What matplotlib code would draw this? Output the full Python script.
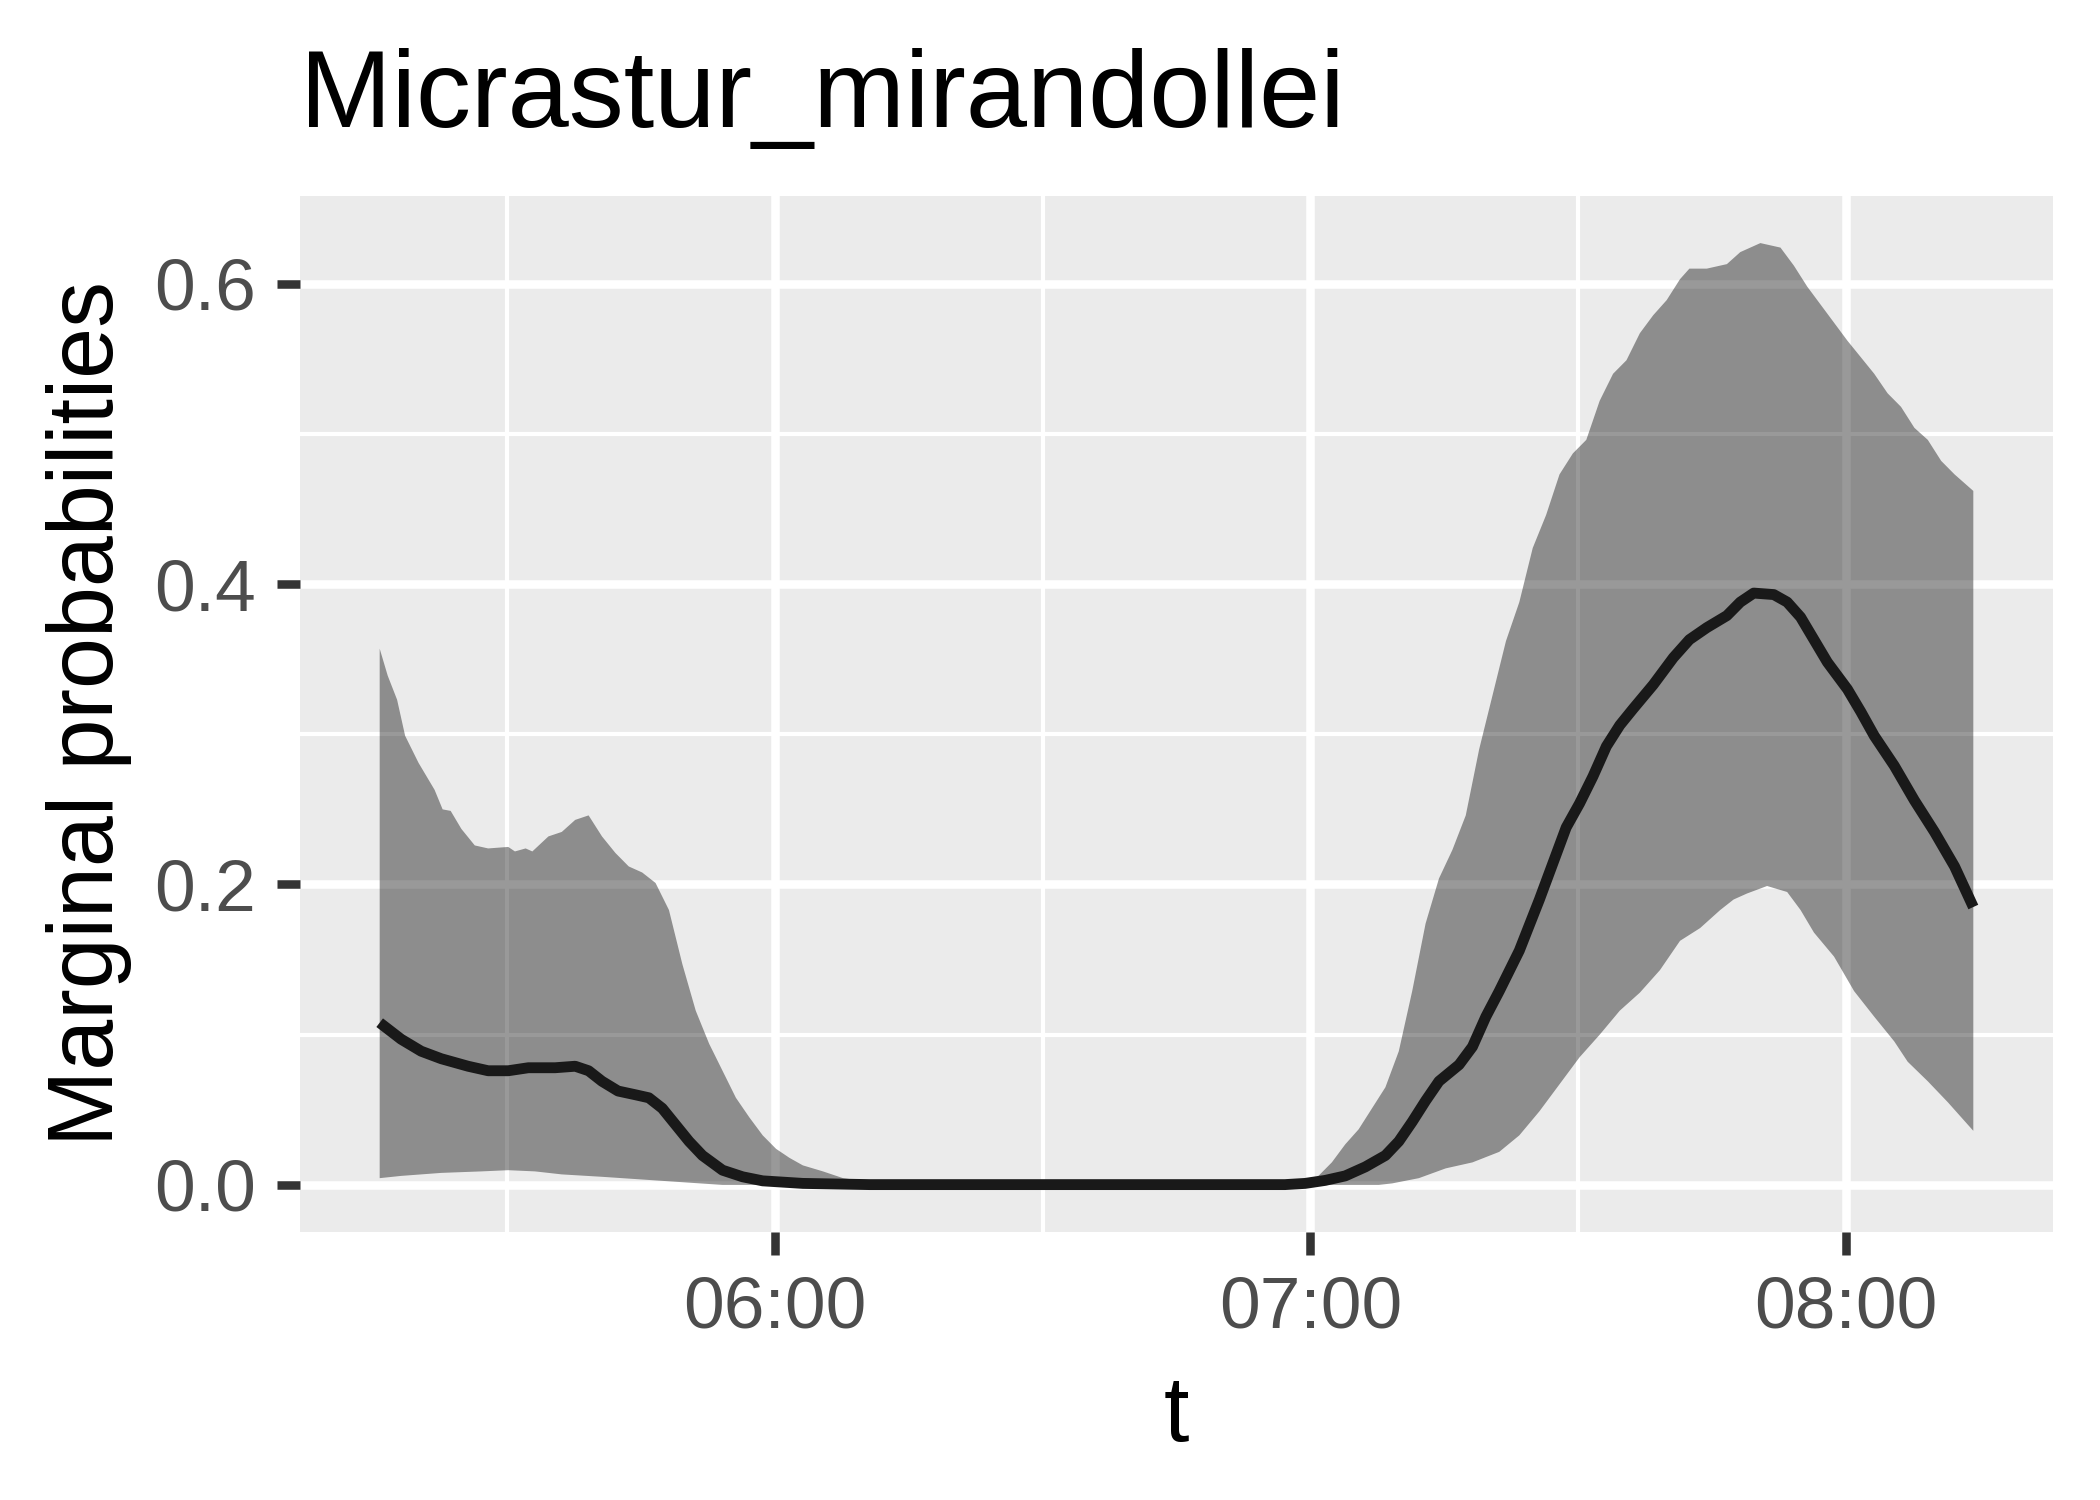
import numpy as np
import matplotlib.pyplot as plt
from matplotlib.ticker import FixedLocator, FuncFormatter

plt.rcParams["font.family"] = ["Liberation Sans", "DejaVu Sans"]

# time in minutes after midnight
upper_t = [315.75, 316.65, 317.7, 318.6, 320.1, 321.9, 322.8, 323.7, 324.9, 326.4,
           327.9, 330.15, 330.9, 332.1, 332.85, 334.65, 336.15, 337.65, 339.15, 340.65,
           342.15, 343.65, 345.15, 346.65, 348.15, 349.65, 351.15, 352.65, 354.15, 355.65,
           357.15, 358.65, 360.15, 361.65, 363.15, 365.4, 367.65, 370.65, 375.15, 419.4,
           420.9, 422.4, 423.9, 425.4, 426.9, 428.4, 429.9, 431.4, 432.9, 434.4,
           435.9, 437.4, 438.9, 440.4, 441.9, 443.4, 444.9, 446.4, 447.9, 449.4,
           450.9, 452.4, 453.9, 455.4, 456.9, 458.4, 459.9, 461.4, 462.45, 464.4,
           466.65, 468.15, 470.4, 472.65, 474.15, 475.65, 477.9, 480.15, 481.65, 483.15,
           484.65, 486.15, 487.65, 489.15, 490.65, 492.15, 494.25]
upper_p = [0.357, 0.339, 0.323, 0.299, 0.281, 0.263, 0.250, 0.249, 0.237, 0.226,
           0.224, 0.225, 0.222, 0.224, 0.222, 0.232, 0.235, 0.243, 0.246, 0.232,
           0.221, 0.212, 0.208, 0.201, 0.183, 0.147, 0.116, 0.094, 0.076, 0.058,
           0.045, 0.033, 0.024, 0.018, 0.013, 0.009, 0.0045, 0.002, 0.0, 0.0,
           0.006, 0.015, 0.027, 0.037, 0.051, 0.065, 0.089, 0.129, 0.174, 0.204,
           0.223, 0.246, 0.290, 0.326, 0.362, 0.388, 0.424, 0.446, 0.473, 0.487,
           0.496, 0.522, 0.540, 0.549, 0.567, 0.579, 0.589, 0.603, 0.610, 0.610,
           0.613, 0.621, 0.627, 0.624, 0.612, 0.598, 0.580, 0.562, 0.551, 0.540,
           0.527, 0.518, 0.504, 0.496, 0.482, 0.473, 0.462]

lower_t = [315.75, 318.15, 322.65, 327.15, 330.15, 333.15, 336.15, 340.65, 345.15, 349.65,
           354.15, 427.65, 429.15, 432.15, 435.15, 438.15, 441.15, 443.4, 445.65, 447.9,
           450.15, 452.4, 454.65, 456.9, 459.15, 461.4, 463.65, 465.9, 467.4, 468.9,
           471.15, 473.4, 474.9, 476.4, 478.65, 480.9, 483.15, 485.4, 486.9, 489.15,
           491.4, 494.25]
lower_p = [0.0045, 0.006, 0.008, 0.009, 0.0098, 0.009, 0.007, 0.0054, 0.0036, 0.0018,
           0.0, 0.0, 0.001, 0.0045, 0.011, 0.015, 0.022, 0.033, 0.049, 0.067,
           0.085, 0.100, 0.116, 0.128, 0.143, 0.1625, 0.171, 0.183, 0.190, 0.194,
           0.199, 0.195, 0.183, 0.168, 0.152, 0.129, 0.112, 0.0955, 0.082, 0.069,
           0.055, 0.036]

mean_t = [315.75, 318.15, 320.4, 322.65, 325.65, 327.9, 330.15, 332.4, 335.4, 337.65,
          339.15, 340.65, 342.45, 344.4, 345.9, 347.4, 348.9, 350.4, 351.9, 354.15,
          356.4, 358.65, 363.15, 370.65, 417.15, 419.4, 421.65, 423.9, 426.15, 428.4,
          429.9, 431.4, 432.9, 434.4, 436.65, 438.15, 439.65, 441.15, 443.4, 445.65,
          447.15, 448.65, 450.15, 451.65, 453.15, 454.65, 456.15, 458.4, 460.65, 462.45,
          464.4, 466.65, 468.15, 469.65, 471.9, 473.4, 474.9, 476.4, 477.9, 480.15,
          481.65, 483.15, 485.4, 487.65, 489.9, 492.15, 494.25]
mean_p = [0.108, 0.097, 0.089, 0.084, 0.079, 0.076, 0.076, 0.078, 0.078, 0.079,
          0.076, 0.069, 0.0625, 0.060, 0.058, 0.051, 0.040, 0.029, 0.0196, 0.0098,
          0.0054, 0.0027, 0.001, 0.0002, 0.0002, 0.001, 0.003, 0.006, 0.012, 0.0196,
          0.029, 0.042, 0.056, 0.069, 0.080, 0.092, 0.112, 0.129, 0.156, 0.190,
          0.214, 0.238, 0.254, 0.272, 0.292, 0.306, 0.317, 0.333, 0.351, 0.363,
          0.371, 0.379, 0.388, 0.394, 0.393, 0.388, 0.378, 0.363, 0.348, 0.330,
          0.315, 0.299, 0.279, 0.256, 0.235, 0.212, 0.185]

x_breaks = [360, 420, 480]
x_minor = [330, 390, 450]
y_breaks = [0.0, 0.2, 0.4, 0.6]
y_minor = [0.1, 0.3, 0.5]

title = "Micrastur_mirandollei"


def hhmm(v, pos=None):
    return f"{int(v // 60):02d}:{int(round(v % 60)):02d}"


fig = plt.figure(figsize=(7, 5), dpi=300)

W, H = 2100, 1500
left, right, top, bottom = 300, 2053, 196, 1232
ax = fig.add_axes([left / W, 1 - bottom / H, (right - left) / W, (bottom - top) / H])

ax.set_facecolor("#EBEBEB")
for s in ax.spines.values():
    s.set_visible(False)

# ribbon
poly_t = np.concatenate([upper_t, lower_t[::-1]])
poly_p = np.concatenate([upper_p, lower_p[::-1]])
ax.fill(poly_t, poly_p, color="black", alpha=0.4, lw=0, zorder=3)

# mean line
ax.plot(mean_t, mean_p, color="#191919", lw=2.6, zorder=4,
        solid_capstyle="butt", solid_joinstyle="round")

ax.margins(x=0.05, y=0.05)

ax.xaxis.set_major_locator(FixedLocator(x_breaks))
ax.xaxis.set_minor_locator(FixedLocator(x_minor))
ax.xaxis.set_major_formatter(FuncFormatter(hhmm))
ax.yaxis.set_major_locator(FixedLocator(y_breaks))
ax.yaxis.set_minor_locator(FixedLocator(y_minor))
ax.yaxis.set_major_formatter(FuncFormatter(lambda v, p: f"{v:.1f}"))

ax.grid(which="major", color="white", lw=2.05)
ax.grid(which="minor", color="white", lw=1.0)
ax.set_axisbelow(True)

ax.tick_params(which="major", length=5.5, width=2.05, color="#333333",
               labelsize=17.6, labelcolor="#4D4D4D", pad=5)
ax.tick_params(which="minor", length=0, width=0)

fig.text(left / W, 1 - 127 / H, title, fontsize=26.4, ha="left",
         va="baseline", color="black")
fig.text((left + right) / 2 / W, 1 - 1441 / H, "t", fontsize=22,
         ha="center", va="baseline", color="black")
fig.text(89 / W, 1 - (top + bottom) / 2 / H, "Marginal probabilities",
         fontsize=22, rotation=90, ha="center", va="center", color="black")

fig.savefig("out.png", dpi=300)
